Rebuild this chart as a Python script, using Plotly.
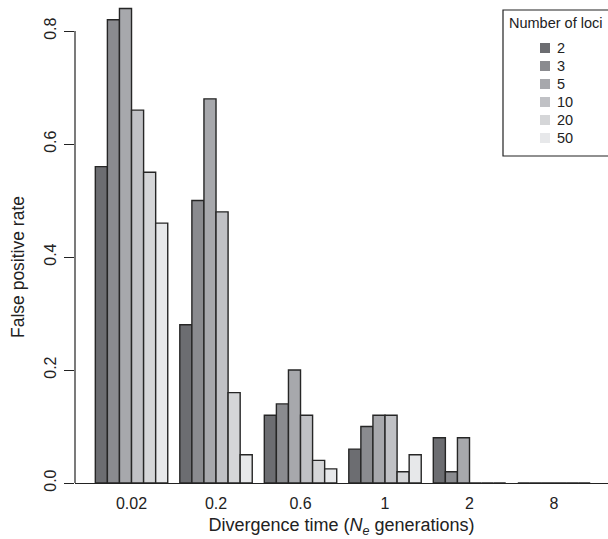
import plotly.graph_objects as go

categories = ["0.02", "0.2", "0.6", "1", "2", "8"]
loci_labels = ["2", "3", "5", "10", "20", "50"]
rates = {
    "2":  [0.56, 0.28, 0.12, 0.06, 0.08, 0.0],
    "3":  [0.82, 0.50, 0.14, 0.10, 0.02, 0.0],
    "5":  [0.84, 0.68, 0.20, 0.12, 0.08, 0.0],
    "10": [0.66, 0.48, 0.12, 0.12, 0.0, 0.0],
    "20": [0.55, 0.16, 0.04, 0.02, 0.0, 0.0],
    "50": [0.46, 0.05, 0.025, 0.05, 0.0, 0.0],
}
colors = ["#6c6d71", "#8a8b8f", "#a7a8ac", "#c0c1c5", "#d5d6d8", "#e7e8ea"]
y_ticks = [0.0, 0.2, 0.4, 0.6, 0.8]

FONT = "Liberation Sans, Arial, Helvetica, sans-serif"
W, H = 608, 539
L, R, T, B = 75, 0, 0, 56
PW, PH = W - L - R, H - T - B


def px_x(p):  # pixel -> paper x
    return (p - L) / PW


def px_y(p):  # pixel -> paper y
    return 1 - (p - T) / PH


fig = go.Figure()
for lab, col in zip(loci_labels, colors):
    fig.add_trace(go.Bar(
        x=categories, y=rates[lab], name=lab, showlegend=False,
        marker=dict(color=col, line=dict(color="#262626", width=1.4)),
    ))

shapes = [
    dict(type="line", xref="paper", yref="y", x0=0, x1=0, y0=0, y1=0.8,
         line=dict(color="#222", width=1.2)),
    dict(type="rect", xref="paper", yref="paper",
         x0=px_x(503), x1=px_x(620), y0=px_y(156), y1=px_y(10),
         line=dict(color="#222", width=1.2)),
]
annotations = [
    dict(text="Number of loci", xref="paper", yref="paper",
         x=px_x(507), y=px_y(23), xanchor="left", yanchor="middle",
         showarrow=False, font=dict(size=14.5, family=FONT, color="#222")),
    dict(text="False positive rate", xref="paper", yref="paper",
         x=px_x(18), y=px_y(267), xanchor="center", yanchor="middle",
         textangle=-90, showarrow=False,
         font=dict(size=17.5, family=FONT, color="#222")),
]
# manual legend (squares + labels)
for i, (lab, col) in enumerate(zip(loci_labels, colors)):
    yc = 48 + 18 * i
    shapes.append(dict(type="rect", xref="paper", yref="paper",
                       x0=px_x(540), x1=px_x(550), y0=px_y(yc + 5), y1=px_y(yc - 5),
                       fillcolor=col, line=dict(width=0)))
    annotations.append(dict(text=lab, xref="paper", yref="paper",
                            x=px_x(555), y=px_y(yc), xanchor="left", yanchor="middle",
                            showarrow=False,
                            font=dict(size=14.5, family=FONT, color="#222")))

fig.update_layout(
    width=W, height=H,
    margin=dict(l=L, r=R, t=T, b=B),
    paper_bgcolor="white", plot_bgcolor="white",
    font=dict(family=FONT, size=16, color="#222"),
    barmode="group", bargap=1/7, bargroupgap=0,
    showlegend=False,
    xaxis=dict(
        type="category", range=[-0.669, 5.639],
        showline=True, linecolor="#222", linewidth=1.2,
        ticks="", showgrid=False, zeroline=False,
        tickfont=dict(size=16), ticklabelstandoff=6,
        title=dict(text="Divergence time (<i>N</i><sub><i>e</i></sub> generations)",
                   font=dict(size=18), standoff=7),
    ),
    yaxis=dict(
        range=[0, 0.855], tickvals=y_ticks, tickformat=".1f",
        tickangle=-90, ticks="outside", ticklen=10, tickwidth=1, tickcolor="#222",
        showline=False, showgrid=False, zeroline=False,
        tickfont=dict(size=16), ticklabelstandoff=2,
    ),
    shapes=shapes,
    annotations=annotations,
)

fig.write_html("out.html")
